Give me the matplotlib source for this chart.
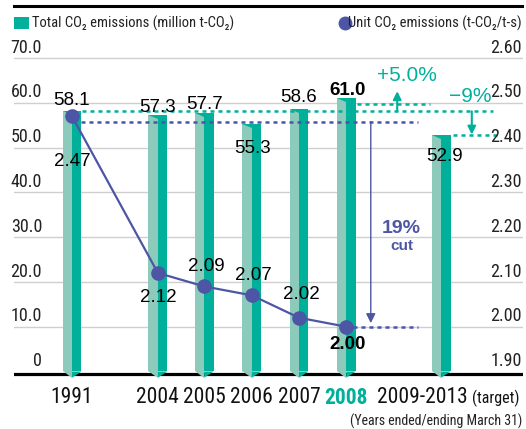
import matplotlib
matplotlib.use('Agg')
import matplotlib.pyplot as plt
from matplotlib.patches import Polygon, Rectangle
from matplotlib.lines import Line2D

# data
years = ['1991', '2004', '2005', '2006', '2007', '2008', '2009-2013']
total_co2 = [58.1, 57.3, 57.7, 55.3, 58.6, 61.0, 52.9]
unit_years = ['1991', '2004', '2005', '2006', '2007', '2008']
unit_co2 = [2.47, 2.12, 2.09, 2.07, 2.02, 2.00]
left_ticks = [0, 10, 20, 30, 40, 50, 60, 70]
right_ticks = [1.90, 2.00, 2.10, 2.20, 2.30, 2.40, 2.50, 2.60]

# layout
slots = [0, 1.82, 2.8, 3.81, 4.81, 5.81, 7.82]
bar_w = 0.40
W, H = 526, 429
DARK = '#00b09b'
LIGHT = '#8ccbbb'
BLUE = '#4d55a5'
NARROW = ['Roboto Condensed', 'Archivo Narrow', 'PT Sans Narrow', 'DejaVu Sans']
SANS = ['Liberation Sans', 'DejaVu Sans']

# pixel offsets for value labels (dx, dy)
bar_lab_off = [(0, 11), (0, 7), (0, 9), (1, -25), (0, 12), (1, 8), (3, -22)]
line_lab_off = [(0, -45), (0, -25), (2, 20), (2, 20), (2, 23), (1, -18)]

fig = plt.figure(figsize=(W / 100, H / 100), dpi=100)
ax = fig.add_axes([14 / W, 0.1028, (523 - 14) / W, 0.7932])
ax.set_xlim(-1.229, 9.555)
ax.set_ylim(-3, 73)
ax.axis('off')
ax2 = ax.twinx()
ax2.set_ylim(1.87, 2.63)
ax2.axis('off')

# gridlines and tick labels
for t in left_ticks[1:]:
    ax.axhline(t, color='#cfcfcf', lw=1.0, zorder=0)
ax.axhline(-0.5, color='black', lw=2.3, zorder=1)
for t in left_ticks:
    lab = '0' if t == 0 else f'{t:.1f}'
    ax.annotate(lab, xy=(0, t), xycoords=('axes fraction', 'data'),
                xytext=(28 * 0.72, 1.0), textcoords='offset points',
                ha='right', va='bottom', fontsize=13, family=NARROW, color='#222222')
for t in right_ticks:
    ax2.annotate(f'{t:.2f}', xy=(1, t), xycoords=('axes fraction', 'data'),
                 xytext=(-1 * 0.72, 1.0), textcoords='offset points',
                 ha='right', va='bottom', fontsize=13, family=NARROW, color='#222222')

# bars: light left half, dark right half, bevel and pointed bottom
lefts = [s - bar_w / 2 for s in slots]
ax.bar(lefts, total_co2, width=bar_w / 2, align='edge', color=LIGHT, zorder=2)
ax.bar(slots, total_co2, width=bar_w / 2, align='edge', color=DARK, zorder=2)
for s, v in zip(slots, total_co2):
    ax.add_patch(Polygon([(s - bar_w / 2, v), (s, v), (s, v - 0.9)], closed=True,
                         color=DARK, lw=0, zorder=3))
    ax.add_patch(Polygon([(s - bar_w / 2, 0), (s, 0), (s, -1.4)], closed=True,
                         color=LIGHT, lw=0, zorder=2))
    ax.add_patch(Polygon([(s, 0), (s + bar_w / 2, 0), (s, -1.4)], closed=True,
                         color=DARK, lw=0, zorder=2))

for i, (s, v) in enumerate(zip(slots, total_co2)):
    dx, dy = bar_lab_off[i]
    ax.annotate(f'{v:.1f}', xy=(s, v), xytext=(dx * 0.72, dy * 0.72),
                textcoords='offset points', ha='center', va='center',
                fontsize=13.5, family=SANS, color='black',
                fontweight='bold' if years[i] == '2008' else 'normal', zorder=6)

# unit emissions line
ux = [slots[years.index(y)] for y in unit_years]
ax2.plot(ux, unit_co2, color=BLUE, lw=1.6, marker='o', ms=9.5, zorder=5)
for i, (x, v) in enumerate(zip(ux, unit_co2)):
    dx, dy = line_lab_off[i]
    ax2.annotate(f'{v:.2f}', xy=(x, v), xytext=(dx * 0.72, dy * 0.72),
                 textcoords='offset points', ha='center', va='center',
                 fontsize=13.5, family=SANS, color='black',
                 fontweight='bold' if unit_years[i] == '2008' else 'normal', zorder=6)

# comparison guides
i08, itg = years.index('2008'), years.index('2009-2013')
dots = dict(ls=(0, (1.6, 1.6)), lw=1.8, zorder=4)
ax.hlines(total_co2[0], slots[0] + bar_w / 2 + 0.02, 8.92, color=DARK, **dots)
ax.hlines(total_co2[i08] - 1.3, slots[i08] + bar_w / 2 + 0.03, 7.58, color=DARK, **dots)
ax.hlines(total_co2[itg], slots[itg] + bar_w / 2 + 0.05, 9.0, color=DARK, **dots)
ax.annotate('', xy=(6.89, total_co2[i08] + 1.6), xytext=(6.89, total_co2[0]),
            arrowprops=dict(arrowstyle='-|>', color=DARK, lw=1.5, mutation_scale=12,
                            shrinkA=0, shrinkB=0), zorder=4)
ax.annotate('', xy=(8.47, total_co2[itg]), xytext=(8.47, total_co2[0]),
            arrowprops=dict(arrowstyle='-|>', color=DARK, lw=1.5, mutation_scale=12,
                            shrinkA=0, shrinkB=0), zorder=4)
pct_up = (total_co2[i08] / total_co2[0] - 1) * 100
pct_dn = (total_co2[itg] / total_co2[0] - 1) * 100
ax.text(7.1, 66.0, f'+{pct_up:.1f}%', ha='center', va='center', fontsize=15,
        family=SANS, color=DARK)
ax.text(8.43, 61.4, f'\u2212{abs(pct_dn):.0f}%', ha='center', va='center', fontsize=15,
        family=SANS, color=DARK)

ax2.hlines(unit_co2[0] - 0.012, slots[0] + bar_w / 2, 7.33, color=BLUE, **dots)
ax2.hlines(unit_co2[-1], ux[-1] + 0.14, 7.33, color=BLUE, **dots)
ax2.annotate('', xy=(6.33, unit_co2[-1] + 0.008), xytext=(6.33, unit_co2[0] - 0.012),
             arrowprops=dict(arrowstyle='-|>', color=BLUE, lw=1.0, mutation_scale=14,
                             shrinkA=0, shrinkB=0), zorder=4)
cut = round((1 - unit_co2[-1] / unit_co2[0]) * 100)
ax2.text(6.98, 2.22, f'{cut}%', ha='center', va='center', fontsize=14,
         family=SANS, fontweight='bold', color=BLUE)
ax2.text(6.98, 2.181, 'cut', ha='center', va='center', fontsize=11,
         family=SANS, fontweight='bold', color=BLUE)

# x labels
for i, (s, y) in enumerate(zip(slots, years)):
    col = DARK if y == '2008' else '#111111'
    if y == '2009-2013':
        ax.text(8.39, -5.9, y, ha='right', va='center', fontsize=15.5, family=NARROW, color=col)
        ax.text(8.47, -5.9, '(target)', ha='left', va='center', fontsize=11.5, family=NARROW,
                color=col)
    else:
        ax.text(s, -5.9, y, ha='center', va='center', fontsize=15.5, family=NARROW, color=col,
                fontweight='bold' if y == '2008' else 'normal')
ax.text(9.53, -11.1, '(Years ended/ending March 31)', ha='right', va='center',
        fontsize=10, family=NARROW, color='#222222')

# header rule and legend
fig.add_artist(Line2D([14 / W, 522 / W], [1 - 6 / H, 1 - 6 / H], color='black', lw=2.2))
fig.add_artist(Rectangle((14 / W, 1 - 29 / H), 15 / W, 12 / H, color=DARK, lw=0))
fig.text(32 / W, 1 - 23 / H, 'Total CO\u2082 emissions (million t-CO\u2082)', ha='left',
         va='center', fontsize=10.5, family=NARROW, color='#222222')
fig.add_artist(Line2D([345 / W], [1 - 23 / H], marker='o', ms=9, color=BLUE, lw=0))
fig.text(522 / W, 1 - 23 / H, 'Unit CO\u2082 emissions (t-CO\u2082/t-s)', ha='right',
         va='center', fontsize=10.5, family=NARROW, color='#222222')

fig.savefig('out.png', dpi=100)
